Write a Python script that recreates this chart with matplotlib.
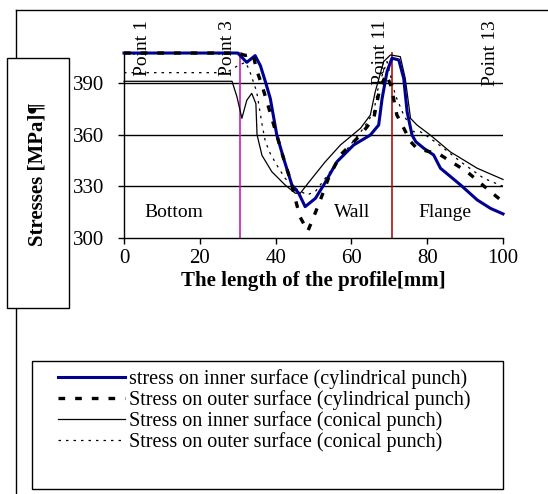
import matplotlib
matplotlib.use("Agg")
import matplotlib.pyplot as plt
from matplotlib.patches import Rectangle
from matplotlib.lines import Line2D

plt.rcParams['font.family'] = ['Liberation Serif', 'DejaVu Serif']

# Stress along the profile
x_cyl_in = [0, 30, 31.5, 32.4, 34.6, 36, 37.3, 38.6, 40.3, 42.1, 44.3, 46.1, 47.8, 50.5, 52.7,
            56.2, 60.6, 65, 67.2, 68.1, 69.4, 70.7, 72.5, 73.8, 74.7, 76, 77, 79.1, 81.7,
            83.5, 88.8, 93.2, 96.7, 100]
y_cyl_in = [407.4, 407.4, 404, 402, 405.9, 400, 390.8, 381, 360, 346.3, 330.8, 326, 318.2, 323, 330.8,
            344.3, 354, 359.8, 365.6, 381, 396.6, 404.4, 403.4, 392.7, 373.3, 359.8, 355.9, 352.1, 348.2,
            340.5, 330.8, 322.1, 317.2, 314]

x_cyl_out = [0, 30, 32, 34, 35, 36.5, 38, 40, 42, 44, 45.6, 46.5, 48.5, 50, 51.8, 54, 57.1,
             62.4, 65.9, 67.5, 69.2, 70.5, 72, 73.4, 75.6, 77.3, 80.8, 83.5, 90.5, 96.7, 100]
y_cyl_out = [407.4, 407.4, 406, 407, 397.6, 388, 377, 362, 347, 333, 319.2, 312, 304, 312, 322, 335, 348.2,
             359.8, 369.5, 387, 395, 388, 371.4, 365.6, 356, 352, 350, 348.2, 338.5, 326.9, 321]

x_con_in = [0, 28.5, 29.8, 31.1, 32.4, 33.7, 34.8, 35.1, 36.4, 39, 42.5, 45.2, 46.5, 49, 53,
            57.1, 62.4, 65, 66.3, 68.5, 70.3, 72.9, 74.2, 75.6, 77.3, 80.8, 86.1, 93.2, 100]
y_con_in = [391, 391, 382, 369.5, 380, 384, 378, 360, 348, 338.5, 330.8, 326, 326, 333, 344,
            354, 363.7, 371.4, 385, 402.4, 406.3, 405.3, 392.7, 369.5, 365.6, 359.8, 350, 340.5, 334]

x_con_out = [0, 27, 28.5, 30, 32, 33, 35, 36.5, 37.3, 38.6, 40.3, 42.5, 45.2, 48.3, 50.5, 54.4,
             59.7, 63.2, 65.9, 67.2, 69.4, 71.6, 73.8, 76.4, 78.2, 80.8, 84.4, 88.8, 94.9, 100]
y_con_out = [396, 396, 398, 400, 402, 398, 385, 365, 356, 349, 342.4, 334.7, 328.9, 325, 327, 338.5,
             354, 363.7, 373.3, 388.8, 402.4, 383, 371.4, 361.7, 361.7, 357.9, 352, 344.3, 334.7, 330]

y_ticks = [300, 330, 360, 390]
x_ticks = [0, 20, 40, 60, 80, 100]
point_x = [5, 27.2, 67.6, 96.7]
point_labels = ['Point 1', 'Point 3', 'Point 11', 'Point 13']
zone_x = [5.5, 60.2, 84.7]
zone_labels = ['Bottom', 'Wall', 'Flange']
x_point3 = 30.6
x_point11 = 70.7

fig = plt.figure(figsize=(5.48, 4.94), dpi=100)
W, H = 548, 494

# outer chart frame (top and left edges visible)
fig.add_artist(Line2D([16 / W, 1.0], [1 - 10 / H, 1 - 10 / H], color='black', lw=1))
fig.add_artist(Line2D([16 / W, 16 / W], [0, 1 - 10 / H], color='black', lw=1))

ax = fig.add_axes([124 / W, 1 - 238 / H, (503 - 124) / W, (238 - 52) / H])
ax.set_xlim(0, 100)
ax.set_ylim(300, 408)

for yv in y_ticks[1:]:
    ax.axhline(yv, color='black', lw=1, zorder=1)
ax.axvline(x_point3, color='#C020C0', lw=1.2, zorder=2)
ax.axvline(x_point11, color='#B01010', lw=1.2, zorder=2)

l1, = ax.plot(x_cyl_in, y_cyl_in, color='#000090', lw=2.2, zorder=4)
l2, = ax.plot(x_cyl_out, y_cyl_out, color='black', lw=2.4, dashes=(2, 3), zorder=5)
l3, = ax.plot(x_con_in, y_con_in, color='black', lw=0.9, zorder=3)
l4, = ax.plot(x_con_out, y_con_out, color='black', lw=0.9, dashes=(2, 4), zorder=3)
for l in (l1, l2, l3, l4):
    l.set_clip_on(False)

for xp, lab in zip(point_x, point_labels):
    ax.text(xp, 426.5, lab, rotation=90, ha='center', va='top', fontsize=14, clip_on=False)
ax.text(zone_x[0], 315, zone_labels[0], ha='left', va='center', fontsize=14)
ax.text(zone_x[1], 315, zone_labels[1], ha='center', va='center', fontsize=14)
ax.text(zone_x[2], 315, zone_labels[2], ha='center', va='center', fontsize=14)

ax.set_xticks(x_ticks)
ax.set_yticks(y_ticks)
ax.tick_params(direction='out', length=4, width=1, labelsize=15, pad=4)
ax.tick_params(axis='y', pad=10)
for s in ('top', 'right'):
    ax.spines[s].set_visible(False)
for s in ('left', 'bottom'):
    ax.spines[s].set_linewidth(1)
ax.set_xlabel('The length of the profile[mm]', fontsize=15, fontweight='bold', labelpad=2)

# y label box
fig.add_artist(Rectangle((7 / W, 1 - 308 / H), 62 / W, 250 / H, facecolor='white',
                         edgecolor='black', lw=1, zorder=5))
fig.text(37 / W, 1 - 174 / H, 'Stresses [MPa]¶', rotation=90, ha='center', va='center',
         fontsize=15, fontweight='bold', zorder=6)

# legend box
fig.add_artist(Rectangle((32 / W, 1 - 489 / H), 471 / W, 128 / H, facecolor='white',
                         edgecolor='black', lw=1, zorder=5))
leg = fig.legend([l1, l2, l3, l4],
                 ['stress on inner surface (cylindrical punch)',
                  'Stress on outer surface (cylindrical punch)',
                  'Stress on inner surface (conical punch)',
                  'Stress on outer surface (conical punch)'],
                 loc='upper left', bbox_to_anchor=(44 / W, 1 - 355 / H), frameon=False,
                 fontsize=14.5, handlelength=3.3, handletextpad=0.2, labelspacing=0.06,
                 borderpad=0.2)
leg.set_zorder(6)

fig.savefig('out.png', dpi=100, facecolor='white')
